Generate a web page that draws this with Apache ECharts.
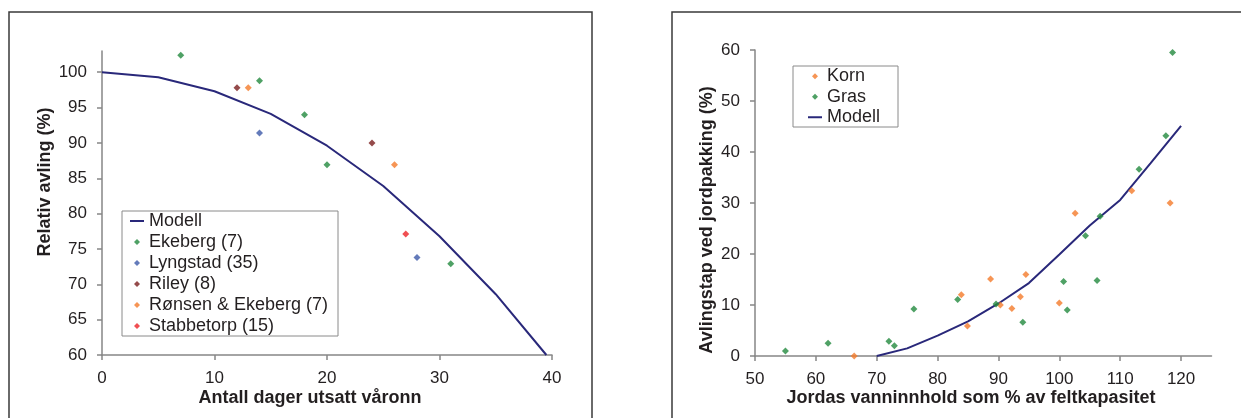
<!DOCTYPE html>
<html>
<head>
<meta charset="utf-8">
<script src="https://cdn.jsdelivr.net/npm/echarts@6/dist/echarts.min.js"></script>
<style>
  html, body { margin: 0; padding: 0; background: #fff; }
  #chart { width: 1241px; height: 418px; }
</style>
</head>
<body>
<div id="chart"></div>
<script>
// Venstre diagram: utsatt våronn
const modellDager = [0, 5, 10, 15, 20, 25, 30, 35, 39.5];
const modellAvling = [100, 99.3, 97.3, 94.1, 89.6, 83.9, 76.8, 68.6, 60];
const ekebergDager = [7, 14, 18, 20, 31];
const ekebergAvling = [102.4, 98.8, 94.0, 86.9, 72.9];
const lyngstadDager = [14, 28];
const lyngstadAvling = [91.4, 73.8];
const rileyDager = [12, 24];
const rileyAvling = [97.8, 90.0];
const ronsenDager = [13, 26];
const ronsenAvling = [97.8, 86.9];
const stabbetorpDager = [27];
const stabbetorpAvling = [77.1];
const dagerTicks = [0, 10, 20, 30, 40];
const avlingTicks = [60, 65, 70, 75, 80, 85, 90, 95, 100];

// Høyre diagram: jordpakking
const kornVann = [66.3, 83.9, 84.9, 88.7, 90.3, 92.2, 93.6, 94.5, 100.0, 102.6, 111.9, 118.2];
const kornTap = [0, 12.0, 5.9, 15.1, 10.0, 9.3, 11.6, 16.0, 10.4, 28.0, 32.4, 30.0];
const grasVann = [55.0, 62.0, 72.0, 72.9, 76.1, 83.3, 89.6, 94.0, 100.7, 101.3, 104.3, 106.2, 106.7, 113.1, 117.5, 118.6];
const grasTap = [1.0, 2.5, 2.9, 2.0, 9.2, 11.1, 10.2, 6.6, 14.6, 9.0, 23.6, 14.8, 27.4, 36.6, 43.2, 59.5];
const modellVann = [70, 75, 80, 85, 90, 95, 100, 105, 110, 115, 120];
const modellTap = [0, 1.5, 4.0, 6.8, 10.3, 14.3, 19.9, 25.6, 30.6, 37.8, 45.1];
const vannTicks = [50, 60, 70, 80, 90, 100, 110, 120];
const tapTicks = [0, 10, 20, 30, 40, 50, 60];

const zip = (xs, ys) => xs.map((x, i) => [x, ys[i]]);

const FONT = "'Liberation Sans', Arial, sans-serif";
const TEXT = '#231f20';
const AXIS = '#868686';
const NAVY = '#29287a';
const GREEN = '#238a3f';
const ORANGE = '#f47a2a';

// legend glyphs in a 14x6 box: a short bar for the model line,
// a small centred diamond (zero-length end points keep the box width) for observations
const LINE_ICON = 'path://M0,2H14V4H0Z';
const DOT_ICON = 'path://M0,3L0,3M4,3L7,0L10,3L7,6ZM14,3L14,3';

function valueAxis(gridIndex, min, max, interval, ticks) {
  return {
    type: 'value', gridIndex, min, max, interval,
    axisLine: { show: true, onZero: false, lineStyle: { color: AXIS, width: 1.5 } },
    axisTick: { show: true, length: 5, customValues: ticks, lineStyle: { color: AXIS, width: 1.5 } },
    axisLabel: { customValues: ticks, margin: 15, color: TEXT, fontSize: 17, fontFamily: FONT },
    splitLine: { show: false }
  };
}

function points(name, xi, data, color) {
  return {
    name, type: 'scatter', xAxisIndex: xi, yAxisIndex: xi, data,
    symbol: 'diamond', symbolSize: 7,
    itemStyle: { color }
  };
}

function modell(name, xi, data) {
  return {
    name, type: 'line', xAxisIndex: xi, yAxisIndex: xi, data,
    symbol: 'none', showSymbol: false, smooth: false, z: 1,
    lineStyle: { color: NAVY, width: 2 },
    itemStyle: { color: NAVY }
  };
}

function title(text, x, y, rotate) {
  return {
    type: 'text', x, y, rotation: rotate ? Math.PI / 2 : 0,
    style: {
      text, fill: TEXT, font: 'bold 18px ' + FONT,
      textAlign: 'center', textVerticalAlign: 'middle'
    }
  };
}

function legendItem(name, icon, color) {
  return { name, icon, itemStyle: { color, borderWidth: 0 }, lineStyle: { width: 0 } };
}

const legendText = { color: TEXT, fontSize: 18, fontFamily: FONT, lineHeight: 21 };

const chart = echarts.init(document.getElementById('chart'), null, { renderer: 'canvas' });
chart.setOption({
  animation: false,
  backgroundColor: '#fff',
  grid: [
    { left: 102, top: 51, width: 450, height: 304 },
    { left: 755, top: 50, width: 456.5, height: 306 }
  ],
  xAxis: [
    valueAxis(0, 0, 40, 10, dagerTicks),
    valueAxis(1, 50, 125, 10, vannTicks)
  ],
  yAxis: [
    valueAxis(0, 60, 103, 5, avlingTicks),
    valueAxis(1, 0, 60, 10, tapTicks)
  ],
  legend: [
    {
      orient: 'vertical', left: 130, top: 210.5, padding: 0, itemGap: 0,
      itemWidth: 14, itemHeight: 6, symbolKeepAspect: true,
      textStyle: legendText,
      data: [
        legendItem('Modell', LINE_ICON, NAVY),
        legendItem('Ekeberg (7)', DOT_ICON, GREEN),
        legendItem('Lyngstad (35)', DOT_ICON, '#3d5aa9'),
        legendItem('Riley (8)', DOT_ICON, '#7b1e1e'),
        legendItem('Rønsen & Ekeberg (7)', DOT_ICON, ORANGE),
        legendItem('Stabbetorp (15)', DOT_ICON, '#ec2327')
      ]
    },
    {
      orient: 'vertical', left: 808, top: 66, padding: 0, itemGap: 0,
      itemWidth: 14, itemHeight: 6, symbolKeepAspect: true,
      textStyle: Object.assign({}, legendText, { lineHeight: 20.5 }),
      data: [
        legendItem('Korn', DOT_ICON, ORANGE),
        legendItem('Gras', DOT_ICON, GREEN),
        legendItem('Modell ', LINE_ICON, NAVY)
      ]
    }
  ],
  series: [
    modell('Modell', 0, zip(modellDager, modellAvling)),
    points('Ekeberg (7)', 0, zip(ekebergDager, ekebergAvling), GREEN),
    points('Lyngstad (35)', 0, zip(lyngstadDager, lyngstadAvling), '#3d5aa9'),
    points('Riley (8)', 0, zip(rileyDager, rileyAvling), '#7b1e1e'),
    points('Rønsen & Ekeberg (7)', 0, zip(ronsenDager, ronsenAvling), ORANGE),
    points('Stabbetorp (15)', 0, zip(stabbetorpDager, stabbetorpAvling), '#ec2327'),
    points('Korn', 1, zip(kornVann, kornTap), ORANGE),
    points('Gras', 1, zip(grasVann, grasTap), GREEN),
    modell('Modell ', 1, zip(modellVann, modellTap))
  ],
  graphic: [
    { type: 'rect', shape: { x: 9, y: 12, width: 583, height: 430 }, style: { fill: 'none', stroke: '#3a3a3a', lineWidth: 1.5 }, z: -1 },
    { type: 'rect', shape: { x: 672, y: 12, width: 600, height: 430 }, style: { fill: 'none', stroke: '#3a3a3a', lineWidth: 1.5 }, z: -1 },
    { type: 'rect', shape: { x: 122, y: 211, width: 216, height: 125 }, style: { fill: '#fff', stroke: '#8a8a8a', lineWidth: 1 }, z: 0 },
    { type: 'rect', shape: { x: 793, y: 66, width: 105, height: 61 }, style: { fill: '#fff', stroke: '#8a8a8a', lineWidth: 1 }, z: 0 },
    title('Antall dager utsatt våronn', 310, 398, false),
    title('Relativ avling (%)', 45, 182, true),
    title('Jordas vanninnhold som % av feltkapasitet', 971, 398, false),
    title('Avlingstap ved jordpakking (%)', 707, 220, true)
  ]
});
</script>
</body>
</html>
